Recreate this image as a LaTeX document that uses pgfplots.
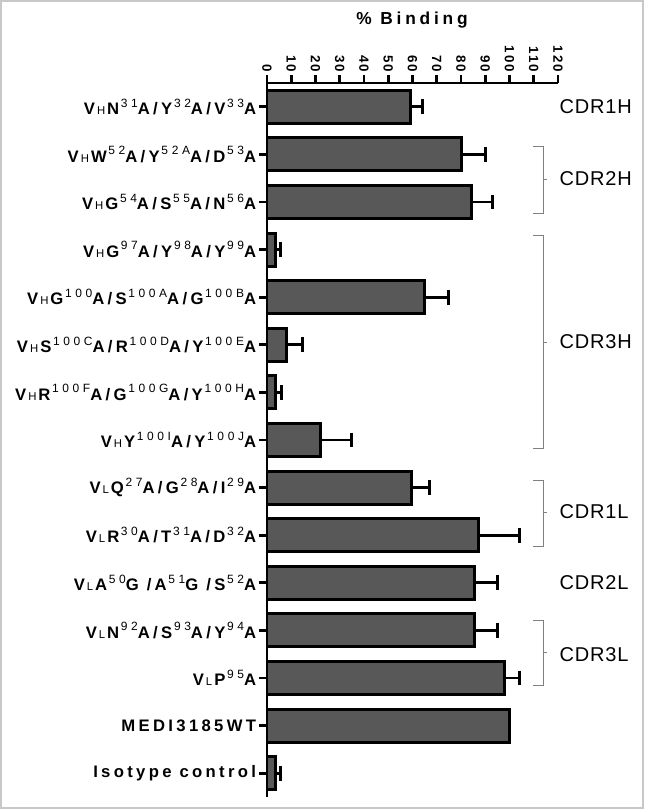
\documentclass[border=0pt]{standalone}
\usepackage{pgfplots}
\usepackage{pgfplotstable}
\pgfplotsset{compat=1.18}
\usepackage{fontspec}
\setmainfont{Liberation Sans}
\newfontfamily\lblfont[LetterSpace=20]{Liberation Sans}
\newfontfamily\supfont[LetterSpace=30]{Liberation Sans}
\newfontfamily\tckfont[LetterSpace=15]{Liberation Sans}
\newfontfamily\ttlfont[LetterSpace=22]{Liberation Sans}
\newfontfamily\cdrfont[LetterSpace=4]{Liberation Sans}
\definecolor{barfill}{RGB}{88,88,88}
\definecolor{framegray}{RGB}{200,200,200}
\newcommand{\sH}[1]{\hspace{0.12em}{\mdseries\fontsize{8.5pt}{8.5pt}\selectfont #1}\hspace{0.12em}}
\newcommand{\sP}[1]{\hspace{0.1em}\raisebox{0.45em}{\supfont\mdseries\fontsize{9pt}{9pt}\selectfont #1}}

\pgfplotstableread{
pos v e
0 59 5.3
1 80.2 9.8
2 84.5 8.3
3 3.4 2.1
4 65 10
5 8.2 6.6
6 3.6 2.4
7 22 12.9
8 59.4 7.6
9 87.4 16.6
10 85.6 9.4
11 85.6 9.4
12 98 6
14 3.4 2.1
}\datatable

\pgfplotstableread{
pos v
13 100
}\wttable

\begin{document}
\begin{tikzpicture}
\useasboundingbox (0pt,0pt) rectangle (483pt,606.75pt);
\draw[framegray, line width=1.5pt] (0.75pt,0.75pt) rectangle (482.25pt,606pt);
\node[font=\ttlfont\bfseries\fontsize{13pt}{13pt}\selectfont] at (309pt,592pt) {\% Binding};
\begin{axis}[
  at={(200.25pt,9pt)}, anchor=south west,
  scale only axis, width=218.25pt, height=535.5pt,
  xmin=0, xmax=120, ymin=-0.5, ymax=14.5, y dir=reverse,
  axis x line=top, axis y line=left,
  axis line style={-, line width=2pt, black},
  xtick={0,10,...,120}, ytick={0,...,14},
  tick align=outside, major tick length=6pt,
  tick style={line width=2pt, black},
  /pgf/number format/assume math mode=true,
  xticklabel style={rotate=-90, anchor=east, inner sep=2pt, font=\tckfont\bfseries\fontsize{10pt}{10pt}\selectfont},
  yticklabel style={inner sep=2pt, font=\lblfont\bfseries\fontsize{12.5pt}{12.5pt}\selectfont},
  yticklabels={
    {V\sH{H}N\sP{31}A/Y\sP{32}A/V\sP{33}A},
    {V\sH{H}W\sP{52}A/Y\sP{52A}A/D\sP{53}A},
    {V\sH{H}G\sP{54}A/S\sP{55}A/N\sP{56}A},
    {V\sH{H}G\sP{97}A/Y\sP{98}A/Y\sP{99}A},
    {V\sH{H}G\sP{100}A/S\sP{100A}A/G\sP{100B}A},
    {V\sH{H}S\sP{100C}A/R\sP{100D}A/Y\sP{100E}A},
    {V\sH{H}R\sP{100F}A/G\sP{100G}A/Y\sP{100H}A},
    {V\sH{H}Y\sP{100I}A/Y\sP{100J}A},
    {V\sH{L}Q\sP{27}A/G\sP{28}A/I\sP{29}A},
    {V\sH{L}R\sP{30}A/T\sP{31}A/D\sP{32}A},
    {V\sH{L}A\sP{50}G /A\sP{51}G /S\sP{52}A},
    {V\sH{L}N\sP{92}A/S\sP{93}A/Y\sP{94}A},
    {V\sH{L}P\sP{95}A},
    {MEDI3185WT},
    {Isotype control}
  },
  clip=false,
]
\addplot[xbar, bar shift=0pt, bar width=24.75pt, fill=barfill, draw=black, line width=2.2pt,
  error bars/.cd, x dir=plus, x explicit, error mark=|,
  error bar style={line width=2pt, black},
  error mark options={line width=2.2pt, black, mark size=5.5pt}]
  table[x=v, y=pos, x error=e] {\datatable};
\addplot[xbar, bar shift=0pt, bar width=24.75pt, fill=barfill, draw=black, line width=2.2pt]
  table[x=v, y=pos] {\wttable};

% group braces
\draw[gray, line width=0.6pt] (axis cs:109.7,0.84) -- (axis cs:113.8,0.84) -- (axis cs:113.8,2.23) -- (axis cs:109.7,2.23);
\draw[gray, line width=0.6pt] (axis cs:113.8,1.53) -- (axis cs:115.5,1.53);
\draw[gray, line width=0.6pt] (axis cs:109.7,2.71) -- (axis cs:113.8,2.71) -- (axis cs:113.8,7.17) -- (axis cs:109.7,7.17);
\draw[gray, line width=0.6pt] (axis cs:113.8,4.94) -- (axis cs:115.5,4.94);
\draw[gray, line width=0.6pt] (axis cs:109.7,7.84) -- (axis cs:113.8,7.84) -- (axis cs:113.8,9.23) -- (axis cs:109.7,9.23);
\draw[gray, line width=0.6pt] (axis cs:113.8,8.53) -- (axis cs:115.5,8.53);
\draw[gray, line width=0.6pt] (axis cs:109.7,10.78) -- (axis cs:113.8,10.78) -- (axis cs:113.8,12.15) -- (axis cs:109.7,12.15);
\draw[gray, line width=0.6pt] (axis cs:113.8,11.46) -- (axis cs:115.5,11.46);

\begin{scope}[every node/.style={anchor=west, font=\cdrfont\fontsize{15pt}{15pt}\selectfont, inner sep=0pt}]
\node at (axis cs:120.6,0) {CDR1H};
\node at (axis cs:120.6,1.5) {CDR2H};
\node at (axis cs:120.6,4.94) {CDR3H};
\node at (axis cs:120.6,8.5) {CDR1L};
\node at (axis cs:120.6,10) {CDR2L};
\node at (axis cs:120.6,11.5) {CDR3L};
\end{scope}
\end{axis}
\end{tikzpicture}
\end{document}
